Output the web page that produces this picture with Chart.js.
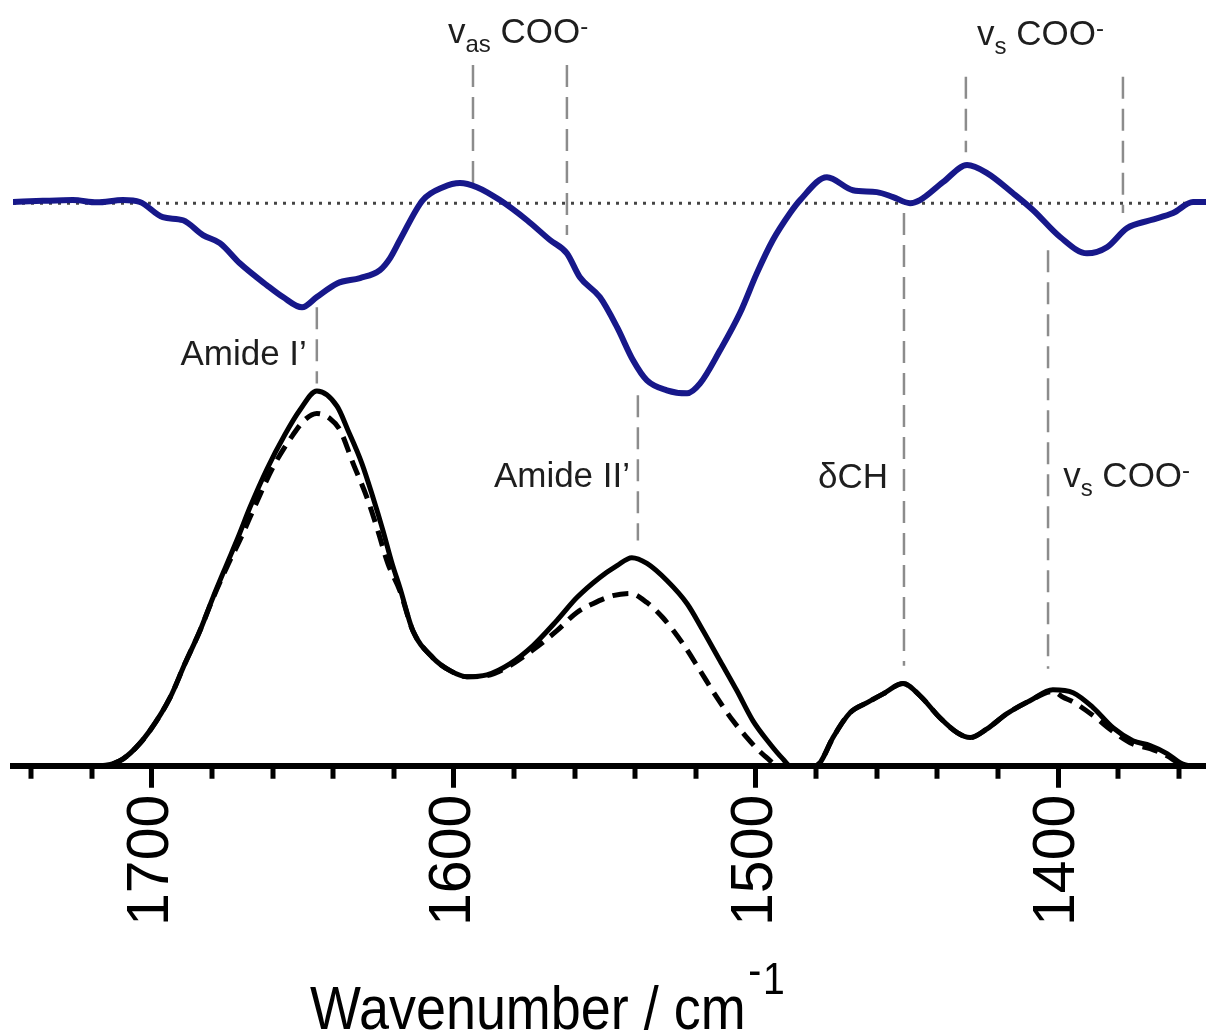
<!DOCTYPE html>
<html>
<head>
<meta charset="utf-8">
<style>
  html, body { margin: 0; padding: 0; background: #fff; }
</style>
</head>
<body>
<canvas id="spectrum" width="1206" height="1034"></canvas>

<script src="https://cdn.jsdelivr.net/npm/chart.js"></script>
<script>
    // Spectre d'absorbance (noir, plein / tirets) et spectre de différence (bleu, décalé)
    var solidWn = [1746, 1717, 1710.6, 1705.6, 1700.7, 1694.0, 1689.1, 1684.1, 1679.8, 1675.2, 1671.5, 1667.5, 1661.9, 1656.0, 1651.0, 1645.4, 1638.7, 1635.1, 1630.5, 1626.8, 1623.5, 1620.5, 1617.9, 1613.6, 1607.0, 1601.3, 1595.7, 1589.1, 1581.5, 1573.8, 1565.9, 1559.3, 1551.7, 1546.0, 1541.1, 1536.1, 1529.5, 1522.8, 1517.5, 1511.9, 1506.3, 1501.0, 1495.4, 1491.1, 1488.7, 1480.5, 1478.8, 1474.5, 1468.9, 1463.2, 1457.9, 1451.3, 1445.7, 1439.1, 1433.4, 1429.1, 1423.5, 1416.9, 1409.3, 1401.7, 1395.0, 1388.4, 1381.8, 1375.2, 1369.5, 1363.9, 1359.6, 1356.3, 1351];
    var solidAbs = [0, 0, 0.013, 0.045, 0.092, 0.179, 0.268, 0.355, 0.442, 0.530, 0.600, 0.680, 0.780, 0.870, 0.935, 0.985, 0.945, 0.882, 0.795, 0.705, 0.618, 0.532, 0.468, 0.355, 0.284, 0.250, 0.234, 0.239, 0.268, 0.316, 0.382, 0.442, 0.495, 0.526, 0.547, 0.532, 0.487, 0.426, 0.355, 0.276, 0.197, 0.118, 0.058, 0.018, 0, 0, 0.008, 0.074, 0.139, 0.166, 0.189, 0.216, 0.184, 0.126, 0.087, 0.074, 0.097, 0.137, 0.171, 0.200, 0.192, 0.153, 0.100, 0.066, 0.053, 0.032, 0.008, 0, 0];

    var dashedWn = [1746, 1717, 1710.6, 1705.6, 1700.7, 1694.0, 1689.1, 1684.1, 1679.8, 1675.2, 1670.2, 1665.2, 1659.9, 1653.3, 1649.3, 1645.4, 1641.1, 1637.7, 1633.4, 1628.8, 1625.2, 1621.9, 1617.9, 1613.6, 1607.0, 1601.3, 1595.7, 1589.1, 1581.5, 1573.8, 1565.9, 1559.3, 1554.0, 1547.4, 1541.7, 1536.1, 1530.8, 1524.2, 1518.5, 1512.9, 1507.6, 1503.0, 1499.7, 1496.4, 1492.7, 1480.5, 1478.8, 1474.5, 1468.9, 1463.2, 1457.9, 1451.3, 1445.7, 1439.1, 1433.4, 1429.1, 1423.5, 1416.9, 1409.3, 1401.7, 1398.3, 1395.0, 1388.4, 1381.8, 1375.2, 1369.5, 1363.9, 1359.6, 1356.3, 1351];
    var dashedAbs = [0, 0, 0.013, 0.045, 0.092, 0.179, 0.268, 0.355, 0.440, 0.522, 0.605, 0.695, 0.785, 0.870, 0.910, 0.926, 0.913, 0.882, 0.795, 0.705, 0.618, 0.532, 0.460, 0.355, 0.284, 0.250, 0.234, 0.237, 0.263, 0.305, 0.355, 0.403, 0.426, 0.447, 0.453, 0.429, 0.389, 0.321, 0.250, 0.179, 0.118, 0.074, 0.045, 0.021, 0, 0, 0.008, 0.074, 0.139, 0.166, 0.189, 0.216, 0.184, 0.126, 0.087, 0.074, 0.097, 0.137, 0.171, 0.195, 0.180, 0.168, 0.132, 0.090, 0.057, 0.045, 0.026, 0.005, 0, 0];

    var diffWn = [1746, 1736.1, 1726.2, 1718.2, 1709.6, 1704.0, 1696.4, 1689.7, 1683.1, 1677.5, 1670.9, 1661.9, 1656.6, 1650.3, 1645.4, 1638.7, 1631.1, 1624.5, 1621.2, 1617.9, 1610.3, 1603.6, 1598.0, 1592.4, 1584.8, 1575.8, 1568.2, 1562.6, 1558.3, 1551.7, 1546.0, 1540.7, 1536.1, 1529.5, 1522.8, 1518.5, 1511.9, 1505.3, 1499.7, 1494.4, 1488.7, 1485.4, 1476.5, 1467.9, 1460.0, 1454.6, 1449.0, 1445.7, 1438.1, 1430.1, 1423.5, 1414.9, 1408.3, 1399.3, 1390.4, 1383.8, 1377.2, 1369.5, 1361.9, 1355.3, 1351];
    var diffAbs = [0.003, 0.006, 0.008, 0.002, 0.008, 0.003, -0.037, -0.045, -0.084, -0.105, -0.158, -0.216, -0.247, -0.274, -0.247, -0.211, -0.197, -0.176, -0.145, -0.097, 0.008, 0.042, 0.053, 0.042, 0.008, -0.045, -0.097, -0.132, -0.195, -0.247, -0.326, -0.413, -0.466, -0.492, -0.500, -0.474, -0.387, -0.289, -0.184, -0.097, -0.026, 0.008, 0.068, 0.034, 0.029, 0.016, 0, 0.008, 0.055, 0.100, 0.079, 0.026, -0.018, -0.089, -0.132, -0.116, -0.066, -0.045, -0.026, 0.003, 0.003];
    var diffOffset = 1.479;

    // Repères verticaux (traits gris)
    var markerWn = [1645.4, 1593.7, 1562.6, 1430.5, 1378.5, 1451.0, 1403.3, 1539.1];
    var markerTop = [1.205, 1.842, 1.842, 1.811, 1.811, 1.453, 1.355, 0.974];
    var markerBottom = [1.005, 1.532, 1.395, 1.613, 1.453, 0.263, 0.255, 0.592];

    var xMin = 1351, xMax = 1746;
    var majorTicks = [1700, 1600, 1500, 1400];
    var minorTicks = [1740, 1720, 1680, 1660, 1640, 1620, 1580, 1560, 1540, 1520, 1480, 1460, 1440, 1420, 1380, 1360];

    var fam = '"Liberation Sans", Arial, Helvetica, sans-serif';
    var partSize = {n: 35, s: 24, p: 24};
    var partShift = {n: 0, s: 9, p: -9};
    var peakLabels = [
        {wn: 1648.7, y: 1.053, align: 'right', parts: [['Amide I\u2019', 'n']]},
        {wn: 1541.7, y: 0.732, align: 'right', parts: [['Amide II\u2019', 'n']]},
        {wn: 1456.3, y: 0.729, align: 'right', parts: [['\u03b4CH', 'n']]},
        {wn: 1398.3, y: 0.732, align: 'left', parts: [['v', 'n'], ['s', 's'], [' COO', 'n'], ['-', 'p']]},
        {wn: 1602.0, y: 1.900, align: 'left', parts: [['v', 'n'], ['as', 's'], [' COO', 'n'], ['-', 'p']]},
        {wn: 1426.8, y: 1.895, align: 'left', parts: [['v', 'n'], ['s', 's'], [' COO', 'n'], ['-', 'p']]}
    ];

    function pts(xs, ys, off) {
        return xs.map(function (x, i) { return {x: x, y: ys[i] + (off || 0)}; });
    }

    var datasets = [
        {data: pts(solidWn, solidAbs), borderColor: '#000', borderWidth: 5, cubicInterpolationMode: 'monotone'},
        {data: pts(dashedWn, dashedAbs), borderColor: '#000', borderWidth: 5, borderDash: [16, 9], cubicInterpolationMode: 'monotone'},
        {data: pts(diffWn, diffAbs, diffOffset), borderColor: '#17188a', borderWidth: 6, cubicInterpolationMode: 'monotone'},
        {data: [{x: xMax, y: diffOffset}, {x: xMin, y: diffOffset}], borderColor: '#444', borderWidth: 3, borderDash: [3, 6], tension: 0}
    ];
    markerWn.forEach(function (wn, i) {
        datasets.push({
            data: [{x: wn, y: markerTop[i]}, {x: wn, y: markerBottom[i]}],
            borderColor: '#8c8c8c', borderWidth: 2.5, borderDash: [22, 10], tension: 0
        });
    });

    // Graduations secondaires, étiquettes des bandes et titre de l'axe
    var decor = {
        id: 'decor',
        afterDraw: function (chart) {
            var ctx = chart.ctx, xs = chart.scales.x, ys = chart.scales.y;
            ctx.save();
            ctx.strokeStyle = '#000';
            ctx.lineWidth = 5;
            minorTicks.forEach(function (v) {
                var px = Math.round(xs.getPixelForValue(v));
                ctx.beginPath();
                ctx.moveTo(px, xs.top);
                ctx.lineTo(px, xs.top + 13);
                ctx.stroke();
            });

            ctx.fillStyle = '#1e1e1e';
            ctx.textBaseline = 'alphabetic';
            ctx.textAlign = 'left';
            peakLabels.forEach(function (lab) {
                var total = 0;
                lab.parts.forEach(function (p) {
                    ctx.font = partSize[p[1]] + 'px ' + fam;
                    total += ctx.measureText(p[0]).width;
                });
                var x = xs.getPixelForValue(lab.wn);
                if (lab.align === 'right') x -= total;
                var y = ys.getPixelForValue(lab.y);
                lab.parts.forEach(function (p) {
                    ctx.font = partSize[p[1]] + 'px ' + fam;
                    ctx.fillText(p[0], x, y + partShift[p[1]]);
                    x += ctx.measureText(p[0]).width;
                });
            });

            ctx.fillStyle = '#000';
            ctx.translate(310, chart.height - 5);
            ctx.scale(0.87, 1);
            ctx.font = '62px ' + fam;
            ctx.fillText('Wavenumber / cm', 0, 0);
            var w = ctx.measureText('Wavenumber / cm').width;
            ctx.font = '45px ' + fam;
            ctx.fillText('-', w + 3, -44);
            ctx.fillText('1', w + 3 + ctx.measureText('-').width + 2, -35);
            ctx.restore();
        }
    };

    var ctx = document.getElementById('spectrum').getContext('2d');
    var chart = new Chart(ctx, {
        type: 'line',
        data: {datasets: datasets},
        options: {
            responsive: false,
            animation: false,
            devicePixelRatio: 1,
            layout: {padding: {left: 13, right: 0, top: 0, bottom: 101}},
            plugins: {legend: {display: false}, tooltip: {enabled: false}},
            elements: {point: {radius: 0}},
            scales: {
                x: {
                    type: 'linear',
                    reverse: true,
                    min: xMin,
                    max: xMax,
                    afterBuildTicks: function (scale) {
                        scale.ticks = majorTicks.map(function (v) { return {value: v}; });
                    },
                    grid: {drawOnChartArea: false, tickLength: 22, tickWidth: 5, tickColor: '#000'},
                    border: {color: '#000', width: 6},
                    ticks: {
                        minRotation: 90, maxRotation: 90, padding: 7, autoSkip: false,
                        color: '#000', font: {family: fam, size: 59},
                        callback: function (v) { return String(v); }
                    }
                },
                y: {display: false, min: 0, max: 2.013}
            }
        },
        plugins: [decor]
    });
</script>
</body>
</html>
